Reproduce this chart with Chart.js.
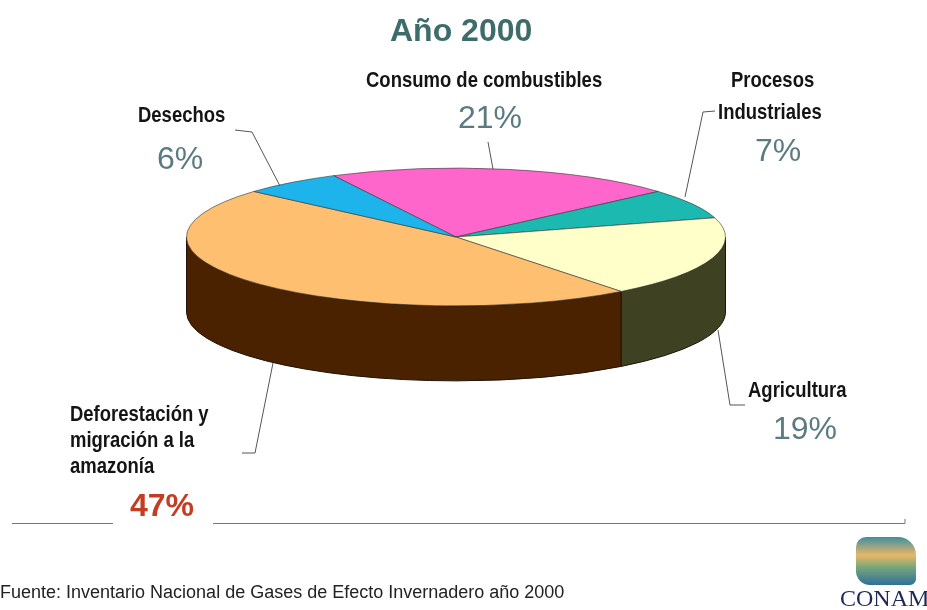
<!DOCTYPE html>
<html>
<head>
<meta charset="utf-8">
<script src="https://cdn.jsdelivr.net/npm/chart.js@4/dist/chart.umd.min.js"></script>
<style>
  body { margin: 0; background: #fff; width: 927px; height: 610px; overflow: hidden; position: relative; font-family: "Liberation Sans", Arial, sans-serif; }
  #wrap { position: absolute; left: 0; top: 0; width: 927px; height: 610px; }
  .t { position: absolute; white-space: nowrap; line-height: 1; }
  .lab { font-family: "Liberation Sans", Arial, sans-serif; font-weight: bold; font-size: 22px; color: #141414;
         transform: scaleX(0.84); transform-origin: 0 0; }
  .pct { font-size: 32px; color: #5b7b82; }
  #title { left: 390px; top: 14px; font-size: 32px; font-weight: bold; color: #3e6c6a; }
  #footer { left: 0px; top: 583px; font-size: 18px; color: #222; }
  #logo { position: absolute; left: 856px; top: 537px; width: 60px; height: 48px; border-radius: 10px 18px 6px 14px;
          background: linear-gradient(180deg, #3f8fa0 0%, #e9b766 38%, #7aa878 62%, #2f6f9c 100%); }
  #conam { left: 840px; top: 586px; font-family: "Liberation Serif", "DejaVu Serif", serif; font-size: 24px; color: #1d2a55; }
</style>
</head>
<body>
<div id="wrap"><canvas id="c" width="927" height="610"></canvas></div>
<div class="t" id="title">Año 2000</div>

<div class="t lab" style="left:366px;top:69px;">Consumo de combustibles</div>
<div class="t pct" id="p0" style="left:458px;top:101px;"></div>

<div class="t lab" style="left:731px;top:69px;">Procesos</div>
<div class="t lab" style="left:718px;top:101px;">Industriales</div>
<div class="t pct" id="p1" style="left:755px;top:134px;"></div>

<div class="t lab" style="left:748px;top:379px;">Agricultura</div>
<div class="t pct" id="p2" style="left:773px;top:412px;"></div>

<div class="t lab" style="left:70px;top:401px;line-height:26px;">Deforestación y<br>migración a la<br>amazonía</div>
<div class="t" id="p3" style="left:130px;top:489px;font-size:32px;font-weight:bold;color:#c33d22;"></div>

<div class="t lab" style="left:138px;top:104px;">Desechos</div>
<div class="t pct" id="p4" style="left:157px;top:142px;"></div>

<div class="t" id="footer">Fuente: Inventario Nacional de Gases de Efecto Invernadero año 2000</div>
<div id="logo"></div>
<div class="t" id="conam">CONAM</div>

<script>
// sectors, clockwise from the back-left edge of the pie
const categories = ['Consumo de combustibles', 'Procesos Industriales', 'Agricultura',
                    'Deforestación y migración a la amazonía', 'Desechos'];
const shares = [21, 7, 19, 47, 6];

const topColors  = ['#ff66cc', '#1cb9b1', '#ffffca', '#ffbf70', '#1db4ec'];
const sideColors = ['#8a2a6a', '#0d5a56', '#3f4222', '#4a2200', '#0b5a78'];

// put the percentages in the labels
shares.forEach((v, i) => { document.getElementById('p' + i).textContent = v + '%'; });

// ellipse placement for the tilted pie
const CX = 456, CY = 237, TILT = 69 / 270, DEPTH = 75;

const pie3d = {
  id: 'pie3d',
  beforeDatasetsDraw(chart) {
    const ctx = chart.ctx;
    const arcs = chart.getDatasetMeta(0).data;
    // side walls, only the front half is visible
    arcs.forEach((arc, i) => {
      const p = arc.getProps(['startAngle', 'endAngle', 'outerRadius'], true);
      const rx = p.outerRadius, ry = rx * TILT;
      for (let k = -1; k <= 1; k++) {
        const a = Math.max(p.startAngle, k * 2 * Math.PI);
        const b = Math.min(p.endAngle, k * 2 * Math.PI + Math.PI);
        if (b <= a) continue;
        ctx.beginPath();
        ctx.ellipse(CX, CY, rx, ry, 0, a, b);
        ctx.lineTo(CX + rx * Math.cos(b), CY + ry * Math.sin(b) + DEPTH);
        ctx.ellipse(CX, CY + DEPTH, rx, ry, 0, b, a, true);
        ctx.closePath();
        ctx.fillStyle = sideColors[i];
        ctx.fill();
        ctx.strokeStyle = '#1e1408';
        ctx.lineWidth = 1;
        ctx.stroke();
      }
    });
    // squash the top face into an ellipse
    ctx.save();
    ctx.translate(CX, CY);
    ctx.scale(1, TILT);
    ctx.translate(-arcs[0].x, -arcs[0].y);
  },
  afterDatasetsDraw(chart) {
    chart.ctx.restore();
  },
  afterDraw(chart) {
    const ctx = chart.ctx;
    ctx.save();
    ctx.strokeStyle = '#555';
    ctx.lineWidth = 1;
    const leaders = [
      [[235, 130], [252, 132], [280, 186]],
      [[488, 142], [493, 169]],
      [[715, 111], [703, 112], [685, 197]],
      [[718, 330], [730, 405], [745, 405]],
      [[273, 363], [255, 453], [242, 453]]
    ];
    leaders.forEach(pts => {
      ctx.beginPath();
      pts.forEach((q, j) => j ? ctx.lineTo(q[0], q[1]) : ctx.moveTo(q[0], q[1]));
      ctx.stroke();
    });
    // bottom rule
    ctx.strokeStyle = '#777';
    ctx.beginPath();
    ctx.moveTo(12, 523.5); ctx.lineTo(113, 523.5);
    ctx.moveTo(213, 523.5); ctx.lineTo(905, 523.5); ctx.lineTo(905, 519);
    ctx.stroke();
    ctx.restore();
  }
};

new Chart(document.getElementById('c'), {
  type: 'pie',
  data: {
    labels: categories,
    datasets: [{
      data: shares,
      backgroundColor: topColors,
      borderColor: '#3a3a3a',
      borderWidth: 1,
      clip: false
    }]
  },
  options: {
    responsive: false,
    animation: false,
    rotation: -27,
    layout: { padding: { top: 35, bottom: 35 } },
    plugins: { legend: { display: false }, tooltip: { enabled: false } }
  },
  plugins: [pie3d]
});
</script>
</body>
</html>
